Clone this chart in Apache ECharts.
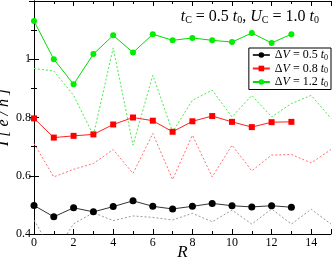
<!DOCTYPE html>
<html><head><meta charset="utf-8">
<script src="https://cdn.jsdelivr.net/npm/echarts@6/dist/echarts.min.js"></script>
<style>html,body{margin:0;padding:0;background:#fff}#c{width:332px;height:260px}</style>
</head><body><div id="c"></div>
<script>
const R_solid = [0,1,2,3,4,5,6,7,8,9,10,11,12,13];
const R_dash = [0,1,2,3,4,5,6,7,8,9,10,11,12,13,14,15];
const black = [0.498,0.459,0.490,0.476,0.494,0.514,0.495,0.486,0.495,0.505,0.497,0.493,0.497,0.492];
const blackDash = [0.448,0.33,0.435,0.473,0.446,0.462,0.457,0.448,0.471,0.442,0.482,0.434,0.486,0.434,0.485,0.434];
const red = [0.797,0.731,0.737,0.742,0.776,0.800,0.789,0.751,0.787,0.805,0.785,0.767,0.784,0.785];
const redDash = [0.711,0.596,0.622,0.642,0.690,0.608,0.745,0.587,0.739,0.596,0.705,0.617,0.671,0.673,0.644,0.690];
const green = [1.131,1.000,0.914,1.018,1.082,1.023,1.086,1.065,1.073,1.065,1.059,1.090,1.056,1.086];
const greenDash = [0.968,0.960,0.876,0.739,1.039,0.705,0.945,0.751,0.859,0.894,0.802,0.876,0.802,0.848,0.876,0.797];
const legendNames = ['0.5','0.8','1.2'];
const xTicks = [0,2,4,6,8,10,12,14];
const yTicks = [0.4,0.6,0.8,1.0];

const serif = 'Liberation Serif';
const pairs = (xs, ys) => ys.map((v,i)=>[xs[i], v]);

const axisCommon = {
  axisLine: {lineStyle: {color: '#000', width: 1}},
  axisTick: {inside: true, length: 5, lineStyle: {color: '#000'}},
  minorTick: {show: true, splitNumber: 2, length: 3, lineStyle: {color: '#000'}},
  splitLine: {show: false}
};

const chart = echarts.init(document.getElementById('c'));
chart.setOption({
  animation: false,
  backgroundColor: '#fff',
  grid: {left: 34, right: 1, top: 1, bottom: 26, containLabel: false, outerBoundsMode: 'none'},
  title: {
    text: '{i|t}{s|C}{n| = 0.5 }{i|t}{s|0}{n|, }{i|U}{s|C}{n| = 1.0 }{i|t}{s|0}',
    right: 8, top: 3,
    textStyle: {fontWeight: 'normal', rich: {
      i: {fontFamily: serif, fontStyle: 'italic', fontWeight: 'normal', fontSize: 16, color: '#000'},
      n: {fontFamily: serif, fontWeight: 'normal', fontSize: 16, color: '#000'},
      s: {fontFamily: serif, fontWeight: 'normal', fontSize: 10, verticalAlign: 'bottom', padding: [7,0,0,0], color: '#000'}
    }}
  },
  legend: {
    data: legendNames,
    orient: 'vertical', right: 1, top: 48,
    itemWidth: 17, itemHeight: 7, itemGap: 1,
    padding: [1, 3, 1, 3],
    borderColor: '#000', borderWidth: 1, backgroundColor: '#fff', borderRadius: 0,
    formatter: n => '{n|Δ}{i|V}{n| = ' + n + ' }{i|t}{s|0}',
    textStyle: {rich: {
      i: {fontFamily: serif, fontStyle: 'italic', fontSize: 12, color: '#000'},
      n: {fontFamily: serif, fontSize: 12, color: '#000'},
      s: {fontFamily: serif, fontSize: 8, verticalAlign: 'bottom', padding: [5,0,0,0], color: '#000'}
    }}
  },
  xAxis: [
    Object.assign({}, axisCommon, {
      type: 'value', min: 0, max: 15, interval: 2, position: 'bottom',
      name: 'R', nameLocation: 'middle', nameGap: 10, nameMoveOverlap: false,
      nameTextStyle: {fontFamily: serif, fontStyle: 'italic', fontSize: 17, color: '#000'},
      axisLabel: {fontFamily: serif, fontSize: 12, color: '#000', margin: 3, showMaxLabel: false,
        formatter: v => xTicks.includes(v) ? String(v) : ''}
    }),
    Object.assign({}, axisCommon, {
      type: 'value', min: 0, max: 15, interval: 2, position: 'top',
      axisLabel: {show: false}
    })
  ],
  yAxis: [
    Object.assign({}, axisCommon, {
      type: 'value', min: 0.4, max: 1.2, interval: 0.2, position: 'left',
      name: '{i|I}{n| [ }{i|e}{n| / }{i|h}{n| ]}', nameLocation: 'middle', nameGap: 22, nameMoveOverlap: false,
      nameTextStyle: {rich: {
        i: {fontFamily: serif, fontStyle: 'italic', fontSize: 16, color: '#000'},
        n: {fontFamily: serif, fontStyle: 'italic', fontSize: 16, color: '#000'}
      }},
      axisLabel: {fontFamily: serif, fontSize: 12, color: '#000', margin: 3, showMaxLabel: false,
        formatter: v => {
          const t = yTicks.find(y => Math.abs(y - v) < 1e-6);
          return t === undefined ? '' : (Math.abs(t - 1) < 1e-6 ? '1' : t.toFixed(1));
        }}
    }),
    Object.assign({}, axisCommon, {
      type: 'value', min: 0.4, max: 1.2, interval: 0.2, position: 'right',
      axisLabel: {show: false}
    })
  ],
  series: [
    {type: 'line', name: 'd05', data: pairs(R_dash, blackDash), symbol: 'none', z: 1,
      lineStyle: {color: '#9a9a9a', width: 1, type: [2, 2]}},
    {type: 'line', name: 'd08', data: pairs(R_dash, redDash), symbol: 'none', z: 1,
      lineStyle: {color: '#ff7070', width: 1, type: [2, 2]}},
    {type: 'line', name: 'd12', data: pairs(R_dash, greenDash), symbol: 'none', z: 1,
      lineStyle: {color: '#44ee44', width: 1, type: [2, 2]}},
    {type: 'line', name: '0.5', data: pairs(R_solid, black), symbol: 'circle', symbolSize: 7, z: 3,
      itemStyle: {color: '#000'}, lineStyle: {color: '#333', width: 1}},
    {type: 'line', name: '0.8', data: pairs(R_solid, red), symbol: 'rect', symbolSize: 6, z: 3,
      itemStyle: {color: '#ff0000'}, lineStyle: {color: '#ff2020', width: 1}},
    {type: 'line', name: '1.2', data: pairs(R_solid, green), symbol: 'circle', symbolSize: 6, z: 3,
      itemStyle: {color: '#00ee00'}, lineStyle: {color: '#00dd00', width: 1}}
  ]
});
</script></body></html>
